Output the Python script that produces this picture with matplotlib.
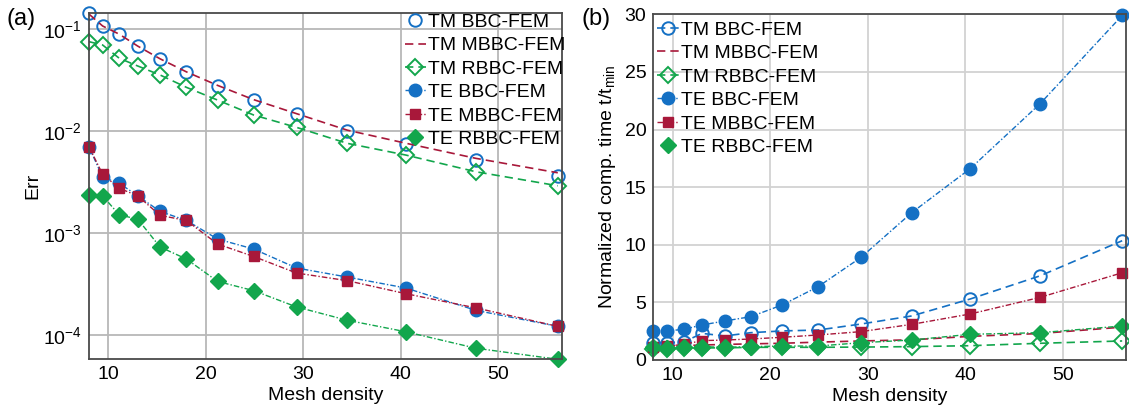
import matplotlib
matplotlib.use("Agg")
import matplotlib.pyplot as plt
from matplotlib.ticker import LogLocator, LogFormatterMathtext, NullLocator

plt.rcParams['font.family'] = ['Liberation Sans', 'DejaVu Sans']
plt.rcParams['mathtext.fontset'] = 'custom'
plt.rcParams['mathtext.rm'] = 'Liberation Sans'
plt.rcParams['mathtext.it'] = 'Liberation Sans:italic'

# mesh densities shared by both panels
mesh = [8.0, 9.4, 11.1, 13.0, 15.3, 18.0, 21.2, 24.9, 29.3, 34.5, 40.5, 47.7, 56.1]

# (a) relative error
err_tm_bbc = [0.142, 0.1077, 0.0893, 0.0681, 0.0508, 0.0376, 0.0278, 0.0201, 0.0146, 0.0101, 0.0075, 0.0052, 0.00365]
err_tm_mbbc = [0.140, 0.107, 0.089, 0.068, 0.051, 0.038, 0.028, 0.0203, 0.0148, 0.0102, 0.0076, 0.0054, 0.0039]
err_tm_rbbc = [0.0751, 0.0697, 0.0517, 0.0434, 0.0354, 0.0268, 0.0201, 0.01435, 0.01086, 0.00758, 0.00582, 0.00399, 0.00291]
err_te_bbc = [0.00702, 0.00353, 0.00308, 0.00232, 0.00163, 0.00133, 0.000874, 0.000698, 0.000455, 0.000371, 0.00029, 0.000175, 0.000122]
err_te_mbbc = [0.00702, 0.00377, 0.00275, 0.00232, 0.00149, 0.00133, 0.000781, 0.00059, 0.000406, 0.000342, 0.000255, 0.000185, 0.000122]
err_te_rbbc = [0.00237, 0.00232, 0.00151, 0.00137, 0.00073, 0.000557, 0.000336, 0.000273, 0.000189, 0.00014, 0.000108, 7.45e-5, 5.8e-5]

# (b) normalized computation time t/t_min
t_tm_bbc = [1.5, 1.5, 1.56, 2.31, 2.08, 2.37, 2.52, 2.6, 3.12, 3.82, 5.29, 7.31, 10.35]
t_tm_mbbc = [1.15, 1.2, 1.25, 1.3, 1.35, 1.4, 1.45, 1.55, 1.65, 1.75, 2.05, 2.3, 2.85]
t_tm_rbbc = [0.95, 0.95, 1.0, 1.05, 1.05, 1.1, 1.1, 1.1, 1.12, 1.16, 1.24, 1.45, 1.65]
t_te_bbc = [2.52, 2.52, 2.66, 3.04, 3.38, 3.76, 4.77, 6.36, 8.9, 12.78, 16.6, 22.26, 29.9]
t_te_mbbc = [1.15, 1.2, 1.35, 1.68, 1.73, 1.82, 1.97, 2.17, 2.46, 3.09, 3.99, 5.44, 7.57]
t_te_rbbc = [1.1, 1.0, 1.1, 1.16, 1.1, 1.16, 1.21, 1.21, 1.5, 1.73, 2.23, 2.37, 2.95]

labels = ['TM BBC-FEM', 'TM MBBC-FEM', 'TM RBBC-FEM', 'TE BBC-FEM', 'TE MBBC-FEM', 'TE RBBC-FEM']

blue = '#1470c4'
red = '#a8183a'
green = '#12a64c'

FS = 14
DASH = (0, (5, 3))
DASHDOT = (0, (4, 1.5, 1, 1.5))


def draw(ax, series, tm_bbc_line):
    tm_bbc, tm_mbbc, tm_rbbc, te_bbc, te_mbbc, te_rbbc = series
    ax.plot(mesh, tm_bbc, ls=tm_bbc_line, color=blue, lw=1.2, marker='o', ms=9,
            mfc='none', mec=blue, mew=1.4, clip_on=False, label=labels[0])
    ax.plot(mesh, tm_mbbc, ls=DASH, color=red, lw=1.2, clip_on=False, label=labels[1])
    ax.plot(mesh, tm_rbbc, ls=DASH, color=green, lw=1.2, marker='D', ms=8,
            mfc='none', mec=green, mew=1.4, clip_on=False, label=labels[2])
    ax.plot(mesh, te_bbc, ls=DASHDOT, color=blue, lw=1.0, marker='o', ms=9,
            mfc=blue, mec=blue, clip_on=False, label=labels[3])
    ax.plot(mesh, te_mbbc, ls=DASHDOT, color=red, lw=1.0, marker='s', ms=7.5,
            mfc=red, mec=red, clip_on=False, label=labels[4])
    ax.plot(mesh, te_rbbc, ls=DASHDOT, color=green, lw=1.0, marker='D', ms=8,
            mfc=green, mec=green, clip_on=False, label=labels[5])


def style(ax, gridcolor):
    ax.set_xlim(8.0, 56.5)
    ax.set_xticks([10, 20, 30, 40, 50])
    ax.grid(True, which='major', color=gridcolor, lw=1.3)
    ax.set_axisbelow(True)
    for s in ax.spines.values():
        s.set_color('#4a4a4a')
        s.set_linewidth(1.3)
    ax.tick_params(length=0, labelsize=FS, pad=5)
    ax.set_xlabel('Mesh density', fontsize=FS, labelpad=3)


def add_legend(ax, anchor):
    leg = ax.legend(loc='upper left', bbox_to_anchor=anchor, frameon=False, fontsize=FS,
                    handlelength=1.1, handletextpad=0.12, labelspacing=0.3, borderpad=0,
                    borderaxespad=0)
    # the filled diamond entry shows just the marker
    leg.legend_handles[5].set_linestyle('none')
    return leg


fig = plt.figure(figsize=(11.29, 4.2), dpi=100)
ax1 = fig.add_axes([0.0788, 0.1445, 0.4187, 0.8238])
ax2 = fig.add_axes([0.5787, 0.1429, 0.4187, 0.8230])

draw(ax1, [err_tm_bbc, err_tm_mbbc, err_tm_rbbc, err_te_bbc, err_te_mbbc, err_te_rbbc], 'none')
ax1.set_yscale('log')
ax1.set_ylim(5.8e-5, 0.1424)
ax1.yaxis.set_major_locator(LogLocator(base=10, numticks=10))
ax1.yaxis.set_major_formatter(LogFormatterMathtext())
ax1.yaxis.set_minor_locator(NullLocator())
style(ax1, '#b8b8b8')
ax1.set_ylabel('Err', fontsize=FS, labelpad=1)
add_legend(ax1, (0.668, 1.0))

draw(ax2, [t_tm_bbc, t_tm_mbbc, t_tm_rbbc, t_te_bbc, t_te_mbbc, t_te_rbbc], DASH)
ax2.set_ylim(0, 30)
ax2.set_yticks([0, 5, 10, 15, 20, 25, 30])
style(ax2, '#d2d2d2')
ax2.set_ylabel('Normalized comp. time t/t$_{\\mathrm{min}}$', fontsize=FS, labelpad=5)
add_legend(ax2, (0.008, 0.98))

fig.text(0.006, 0.955, '(a)', fontsize=17, va='center', ha='left')
fig.text(0.515, 0.955, '(b)', fontsize=17, va='center', ha='left')

fig.savefig('out.png', dpi=100)
